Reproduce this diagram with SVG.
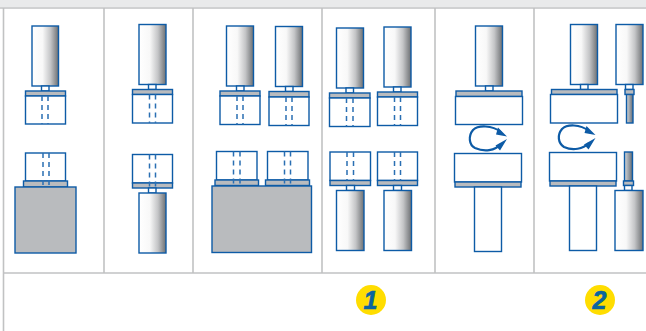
<svg xmlns="http://www.w3.org/2000/svg" width="646" height="331" viewBox="0 0 646 331">
<style>
.g{stroke:#c1c2c3;stroke-width:1.6;fill:none}
.c{fill:url(#cyl);stroke:#0d5ba6;stroke-width:1.4}
.n{fill:#fff;stroke:#0d5ba6;stroke-width:1.4}
.p{fill:#b9bbbe;stroke:#0d5ba6;stroke-width:1.4}
.r{fill:url(#rod);stroke:#0d5ba6;stroke-width:1.4}
.d{stroke:#2a6fb3;stroke-width:1.5;stroke-dasharray:5 4;fill:none}
.l{fill:none;stroke:#0d5ba6;stroke-width:2.2}
.a{fill:#0d5ba6}
.b{fill:#ffdd00}
.t{font:italic bold 25px "Liberation Sans",Arial,sans-serif;fill:#0b659f;stroke:#0b659f;stroke-width:.7;text-anchor:middle}
</style>
<defs>
<linearGradient id="cyl" x1="0" y1="0" x2="1" y2="0"><stop offset="0" stop-color="#fff"/><stop offset=".4" stop-color="#f8f8f8"/><stop offset=".7" stop-color="#c4c5c7"/><stop offset="1" stop-color="#6c6f72"/></linearGradient>
<linearGradient id="rod" x1="0" y1="0" x2="1" y2="0"><stop offset="0" stop-color="#d8d9da"/><stop offset="1" stop-color="#5f6a76"/></linearGradient>
</defs>
<rect width="646" height="7" fill="#e9eaeb"/>
<g id="grid">
<path class="g" d="M0 8H646M3.500 8V273M104 8V273M193 8V273M322 8V273M435 8V273M534 8V273M3.500 273H646M3.500 273V331"/>
</g>
<g id="c1-top"><rect class="c" x="32" y="26" width="26.500" height="60"/><rect class="n" x="41.500" y="86" width="7.500" height="5"/><rect class="p" x="25.500" y="91" width="40" height="5"/><rect class="n" x="25.500" y="96" width="40" height="28"/><path class="d" d="M42 96V124M48 96V124"/></g>
<g id="c1-bottom"><rect class="n" x="25.500" y="153" width="40" height="28"/><rect class="p" x="23.500" y="181" width="44" height="6"/><rect class="p" x="15" y="187" width="61" height="66"/><path class="d" d="M43 153V187M49 153V187"/></g>
<g id="c2-top"><rect class="c" x="139" y="24.500" width="27" height="60"/><rect class="n" x="148.500" y="84.500" width="7.500" height="5"/><rect class="p" x="132.500" y="89.500" width="40" height="5"/><rect class="n" x="132.500" y="94.500" width="40" height="28.500"/><path class="d" d="M149.500 94.500V123M155.500 94.500V123"/></g>
<g id="c2-bottom"><rect class="n" x="132.500" y="154.500" width="40" height="28.500"/><rect class="p" x="132.500" y="183" width="40" height="5"/><rect class="n" x="148.500" y="188" width="7.500" height="5"/><rect class="c" x="139" y="193" width="27" height="60"/><path class="d" d="M149.500 154.500V188M155.500 154.500V188"/></g>
<g id="c3-top-a"><rect class="c" x="226.500" y="26" width="27" height="60"/><rect class="n" x="236.500" y="86" width="7.500" height="5"/><rect class="p" x="220" y="91" width="40" height="5"/><rect class="n" x="220" y="96" width="40" height="28.500"/><path class="d" d="M237 96V124.500M243 96V124.500"/></g>
<g id="c3-top-b"><rect class="c" x="275.500" y="26.500" width="27" height="60"/><rect class="n" x="285.500" y="86.500" width="7.500" height="5"/><rect class="p" x="269" y="91.500" width="40" height="5.500"/><rect class="n" x="269" y="97" width="40" height="28.500"/><path class="d" d="M286 97V125.500M292 97V125.500"/></g>
<g id="c3-bottom"><rect class="n" x="216.500" y="151.500" width="40.500" height="28.500"/><rect class="p" x="215" y="180" width="43.500" height="5.500"/><rect class="n" x="267.500" y="151.500" width="40.500" height="28.500"/><rect class="p" x="265.500" y="180" width="44" height="5.500"/><rect class="p" x="212" y="186" width="99.500" height="66.500"/><path class="d" d="M233.500 151.500V185.500M240 151.500V185.500M284.500 151.500V185.500M290.500 151.500V185.500"/></g>
<g id="c4-top-a"><rect class="c" x="336.500" y="28" width="27" height="60"/><rect class="n" x="346" y="88" width="7.500" height="5"/><rect class="p" x="329.500" y="93" width="40.500" height="5"/><rect class="n" x="329.500" y="98" width="40.500" height="28.500"/><path class="d" d="M346.500 98V126.500M353 98V126.500"/></g>
<g id="c4-top-b"><rect class="c" x="384" y="27" width="27" height="60"/><rect class="n" x="393.500" y="87" width="7.500" height="5"/><rect class="p" x="377.500" y="92" width="40" height="5"/><rect class="n" x="377.500" y="97" width="40" height="28.500"/><path class="d" d="M394.500 97V125.500M400.500 97V125.500"/></g>
<g id="c4-bottom-a"><rect class="n" x="330" y="152" width="40.500" height="28.500"/><rect class="p" x="330" y="180.500" width="40.500" height="5"/><rect class="n" x="346.500" y="185.500" width="8" height="5"/><rect class="c" x="336.500" y="190.500" width="27.500" height="60"/><path class="d" d="M347 152V180.500M353.500 152V180.500"/></g>
<g id="c4-bottom-b"><rect class="n" x="377.500" y="152" width="40" height="28.500"/><rect class="p" x="377.500" y="180.500" width="40" height="5"/><rect class="n" x="393.500" y="185.500" width="8" height="5"/><rect class="c" x="384" y="190.500" width="27.500" height="60"/><path class="d" d="M394.500 152V180.500M400.500 152V180.500"/></g>
<g id="c5-top"><rect class="c" x="475.500" y="26" width="27" height="60"/><rect class="n" x="485.500" y="86" width="7.500" height="5"/><rect class="p" x="456" y="91" width="66" height="5.500"/><rect class="n" x="455.500" y="96.500" width="67" height="28"/></g>
<g id="c5-rotation"><path class="l" d="M501 132C492 125 478 125 473 130C468 136 469 145 475 148C484 152 495 151 501 144"/><path class="a" d="M507 136.500L498 127.500L496 134.500ZM507 139L495.500 145.500L500 150.500Z"/></g>
<g id="c5-bottom"><rect class="n" x="454.500" y="153.500" width="67" height="28.500"/><rect class="p" x="455" y="182" width="66" height="5"/><rect class="n" x="474.500" y="187" width="27" height="64.500"/></g>
<g id="c6-top-a"><rect class="c" x="570.500" y="24.500" width="27" height="60"/><rect class="n" x="580.500" y="84.500" width="7.500" height="5"/><rect class="p" x="551.500" y="89.500" width="65.500" height="5"/><rect class="n" x="550.500" y="94.500" width="67" height="28.500"/></g>
<g id="c6-top-b"><rect class="c" x="616" y="24.500" width="27" height="60"/><rect class="n" x="625.500" y="84.500" width="7.500" height="5"/><rect class="p" x="625" y="89.500" width="9" height="5"/><rect class="r" x="626.500" y="94.500" width="6.500" height="28.500"/></g>
<g id="c6-rotation"><path class="l" d="M589 131C580 124 567 124 562 129C557 135 558 143 564 147C573 151 583 149 589 143"/><path class="a" d="M595.500 135L586.500 126L584.500 133ZM595.500 138L584 144.500L588.500 149.500Z"/></g>
<g id="c6-bottom-a"><rect class="n" x="549.500" y="152.500" width="67" height="28.500"/><rect class="p" x="550" y="181" width="66" height="5"/><rect class="n" x="569.500" y="186" width="27" height="64.500"/></g>
<g id="c6-bottom-b"><rect class="r" x="624.500" y="152" width="8" height="29"/><rect class="p" x="623.500" y="181" width="10" height="4.500"/><rect class="n" x="624.500" y="185.500" width="7.500" height="5"/><rect class="c" x="615" y="190.500" width="28" height="60"/></g>
<g id="badge-1"><circle class="b" cx="371" cy="300" r="15"/><text class="t" x="370.500" y="309">1</text></g>
<g id="badge-2"><circle class="b" cx="600" cy="300" r="15"/><text class="t" x="599.500" y="309">2</text></g>
</svg>
